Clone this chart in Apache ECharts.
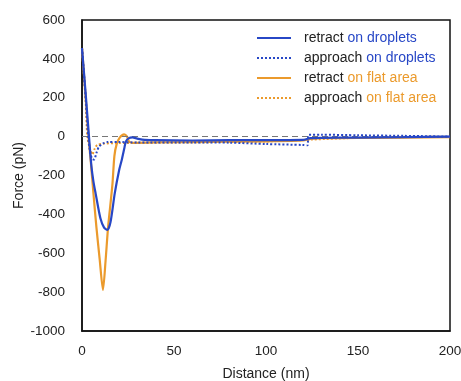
<!DOCTYPE html>
<html>
<head>
<meta charset="utf-8">
<script src="https://cdn.jsdelivr.net/npm/echarts@6/dist/echarts.min.js"></script>
<style>html,body{margin:0;padding:0;background:#fff}#c{width:461px;height:381px}</style>
</head>
<body>
<div id="c"></div>
<script>
// Distance (nm) and Force (pN) values
const retractDropX = [0, 2, 3.8, 5.1, 6.2, 7.4, 10, 12, 13.8, 15.5, 17.8, 20.2, 21.6, 23, 23.8, 25.5, 27.4, 30, 34, 40, 60, 80, 100, 120, 124, 130, 150, 175, 200];
const retractDropY = [455, 220, 0, -150, -230, -292, -420, -468, -480, -440, -292, -172, -120, -60, -26, -8, -4, -10, -17, -18, -20, -18, -18, -17, -8, -6, -5, -3, 0];

const approachDropX = [0, 2, 3.4, 4.6, 5.6, 6.5, 8, 9.2, 11.5, 13.8, 20, 30, 60, 80, 100, 120, 122.5, 123.3, 130, 150, 175, 200];
const approachDropY = [455, 200, 0, -90, -115, -118, -80, -52, -35, -28, -28, -30, -30, -31, -38, -43, -45, 9, 10, 7, 4, 0];

const retractFlatX = [0, 2, 3.5, 4.7, 6.2, 7.8, 9.6, 11.4, 12.8, 14.2, 16.5, 17.6, 18.8, 20.5, 22.9, 24.5, 25.6, 28, 40, 60, 100, 120, 125, 130, 150, 200];
const retractFlatY = [455, 200, 0, -120, -290, -463, -630, -789, -640, -463, -250, -100, -40, -5, 12, 0, -26, -32, -30, -28, -24, -20, -10, -8, -7, -3];

const approachFlatX = [0, 2, 2.9, 4.5, 5.6, 7, 8.3, 12, 20, 30, 50, 100, 125, 150, 200];
const approachFlatY = [455, 180, 0, -70, -92, -60, -43, -36, -33, -32, -30, -25, -15, -6, 0];

const xTicks = [0, 50, 100, 150, 200];
const yTicks = [-1000, -800, -600, -400, -200, 0, 200, 400, 600];

const seriesNames = ['retract on droplets', 'approach on droplets', 'retract on flat area', 'approach on flat area'];

const BLUE = '#2747c6';
const ORANGE = '#eb9a2c';

function pairs(xs, ys) { return xs.map((x, i) => [x, ys[i]]); }

const chart = echarts.init(document.getElementById('c'), null, {renderer: 'canvas'});
const fontFamily = '"Liberation Sans", Arial, sans-serif';

chart.setOption({
  animation: false,
  backgroundColor: '#fff',
  grid: {left: 82, right: 11, top: 20, bottom: 50, show: true, borderColor: '#111', borderWidth: 1.5, backgroundColor: 'transparent', containLabel: false, outerBoundsMode: 'none'},
  legend: {
    orient: 'vertical',
    left: 256,
    top: 31,
    padding: 0,
    itemWidth: 34,
    itemHeight: 14,
    itemGap: 6,
    itemStyle: {opacity: 0},
    data: seriesNames,
    formatter: function (name) {
      const i = name.indexOf(' ');
      const first = name.slice(0, i);
      const rest = name.slice(i + 1);
      const key = name.indexOf('droplets') >= 0 ? 'b' : 'o';
      return '{k|' + first + '} {' + key + '|' + rest + '}';
    },
    textStyle: {
      fontFamily: fontFamily,
      fontSize: 14,
      padding: [0, 0, 0, 8],
      rich: {
        k: {color: '#222', fontSize: 14, fontFamily: fontFamily},
        b: {color: BLUE, fontSize: 14, fontFamily: fontFamily},
        o: {color: ORANGE, fontSize: 14, fontFamily: fontFamily}
      }
    }
  },
  xAxis: {
    type: 'value',
    min: xTicks[0],
    max: xTicks[xTicks.length - 1],
    interval: 50,
    name: 'Distance (nm)',
    nameLocation: 'middle',
    nameGap: 36,
    nameMoveOverlap: false,
    nameTextStyle: {color: '#222', fontSize: 14, fontFamily: fontFamily},
    axisLine: {show: true, onZero: false, lineStyle: {color: '#111', width: 1.5}},
    axisTick: {show: false},
    splitLine: {show: false},
    axisLabel: {color: '#222', fontSize: 13.5, fontFamily: fontFamily, margin: 13}
  },
  yAxis: {
    type: 'value',
    min: yTicks[0],
    max: yTicks[yTicks.length - 1],
    interval: 200,
    name: 'Force (pN)',
    nameLocation: 'middle',
    nameGap: 56,
    nameMoveOverlap: false,
    nameTextStyle: {color: '#222', fontSize: 14, fontFamily: fontFamily},
    axisLine: {show: true, onZero: false, lineStyle: {color: '#111', width: 1.5}},
    axisTick: {show: false},
    splitLine: {show: false},
    axisLabel: {color: '#222', fontSize: 13.5, fontFamily: fontFamily, margin: 17, formatter: function (v) { return String(v); }}
  },
  series: [
    {
      name: seriesNames[0], type: 'line', data: pairs(retractDropX, retractDropY),
      smooth: 0.25, symbol: 'none', z: 6,
      lineStyle: {color: BLUE, width: 2.2}, itemStyle: {color: BLUE}
    },
    {
      name: seriesNames[1], type: 'line', data: pairs(approachDropX, approachDropY),
      smooth: 0.25, symbol: 'none', z: 5,
      lineStyle: {color: BLUE, width: 2, type: 'dotted'}, itemStyle: {color: BLUE}
    },
    {
      name: seriesNames[2], type: 'line', data: pairs(retractFlatX, retractFlatY),
      smooth: 0.25, symbol: 'none', z: 4,
      lineStyle: {color: ORANGE, width: 2.2}, itemStyle: {color: ORANGE}
    },
    {
      name: seriesNames[3], type: 'line', data: pairs(approachFlatX, approachFlatY),
      smooth: 0.25, symbol: 'none', z: 3,
      lineStyle: {color: ORANGE, width: 2, type: 'dotted'}, itemStyle: {color: ORANGE},
      markLine: {
        silent: true, symbol: 'none', label: {show: false},
        lineStyle: {color: '#777', width: 1.2, type: [6, 4]},
        data: [{yAxis: 0}]
      }
    }
  ]
});
</script>
</body>
</html>
